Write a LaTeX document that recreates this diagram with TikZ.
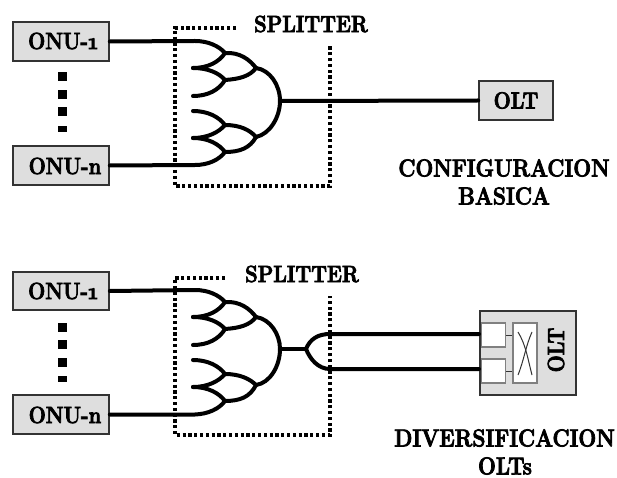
\documentclass[tikz,border=0pt]{standalone}
\usepackage{fontspec}
\newfontfamily\heavy{Latin Modern Roman}[BoldFeatures={FakeBold=3,FakeStretch=0.86},Numbers=OldStyle]
\begin{document}
\begin{tikzpicture}[x=1pt,y=-1pt,
  lbl/.style={font=\heavy\fontsize{24.5}{28}\selectfont\bfseries,text=black,inner sep=0pt},
  boxlbl/.style={lbl,font=\heavy\fontsize{23.5}{28}\selectfont\bfseries},
  unit/.style={draw=black!80,line width=1.6pt,fill=black!13,inner sep=0pt,minimum width=96pt,minimum height=39pt},
  fibre/.style={line width=4pt,line cap=round},
  dotline/.style={line width=3.6pt,dash pattern=on 3.2pt off 2.6pt},
  dotsq/.style={fill=black,draw=none,inner sep=0pt,minimum width=9pt,minimum height=9pt},
  inner/.style={draw=black!50,line width=1.1pt,fill=white,inner sep=0pt},
  thin/.style={line width=1pt,draw=black!80}]
\useasboundingbox (0,0) rectangle (617,478);
\fill[white] (0,0) rectangle (617,478);
% ---------- top ----------
\node[unit] (a1) at (61,41.5) {};
\node[boxlbl] (a1t) at (63,41) {ONU-1};
\node[unit] (an) at (61,165.5) {};
\node[boxlbl] (ant) at (65,166) {ONU-n};
\node[unit,minimum width=74pt] (aolt) at (516,100.5) {};
\node[boxlbl] (aoltt) at (516,100.5) {OLT};
\node[dotsq] (ad1) at (62,77) {};
\node[dotsq] (ad2) at (62,95) {};
\node[dotsq] (ad3) at (62,112) {};
\node[dotsq,minimum height=6pt] (ad4) at (62,129) {};
\draw[dotline] (236,28) -- (175,28) -- (175,186) -- (330,186) -- (330,46);
\node[boxlbl] (asp) at (311,24) {SPLITTER};
\node[lbl] (ac1) at (504,168) {CONFIGURACION};
\node[lbl] (ac2) at (504,196) {BASICA};
\coordinate (A) at (225,53); \coordinate (B) at (225,80); \coordinate (C) at (256,68);
\coordinate (E) at (225,125); \coordinate (F) at (225,152); \coordinate (G) at (256,137);
\coordinate (D) at (280,101);
\draw[fibre] (a1.east) -- (195,41) .. controls (208,41) and (219,46) .. (A);
\draw[fibre] (193,68) .. controls (208,68) and (219,62) .. (A);
\draw[fibre] (193,68) .. controls (208,68) and (219,73) .. (B);
\draw[fibre] (193,96) .. controls (208,96) and (219,90) .. (B);
\draw[fibre] (A) .. controls (240,52) and (250,60) .. (C);
\draw[fibre] (B) .. controls (240,79) and (250,76) .. (C);
\draw[fibre] (193,111) .. controls (208,111) and (219,117) .. (E);
\draw[fibre] (193,138) .. controls (208,138) and (219,132) .. (E);
\draw[fibre] (193,138) .. controls (208,138) and (219,144) .. (F);
\draw[fibre] (an.east) -- (195,165) .. controls (208,165) and (219,160) .. (F);
\draw[fibre] (E) .. controls (240,125) and (250,130) .. (G);
\draw[fibre] (F) .. controls (240,152) and (250,148) .. (G);
\draw[fibre] (C) .. controls (270,70) and (280,85) .. (D);
\draw[fibre] (G) .. controls (270,134) and (280,117) .. (D);
\draw[fibre] (D) -- (aolt.west);
% ---------- bottom ----------
\node[unit,minimum height=38pt] (b1) at (61,291) {};
\node[boxlbl] (b1t) at (63,291) {ONU-1};
\node[unit] (bn) at (61,414.5) {};
\node[boxlbl] (bnt) at (65,415) {ONU-n};
\node[dotsq] (bd1) at (62,327) {};
\node[dotsq] (bd2) at (62,344) {};
\node[dotsq] (bd3) at (62,362) {};
\node[dotsq,minimum height=6pt] (bd4) at (62,379) {};
\draw[dotline] (225,278) -- (175,278) -- (175,435) -- (330,435) -- (330,296);
\node[boxlbl] (bsp) at (302,274) {SPLITTER};
\node[lbl] (bc1) at (504.5,438) {DIVERSIFICACION};
\node[lbl] (bc2) at (505,466) {OLTs};
\node[unit,minimum width=96pt,minimum height=84pt] (bolt) at (528,353) {};
\node[inner,minimum width=24pt,minimum height=24pt] (p1) at (493.5,335) {};
\node[inner,minimum width=24pt,minimum height=24pt] (p2) at (493.5,371) {};
\node[inner,minimum width=24pt,minimum height=60pt] (sw) at (525,353) {};
\node[boxlbl,rotate=90] (boltt) at (556,350) {OLT};
\draw[thin] (p1.east) -- (p1.east-|sw.west);
\draw[thin] (p2.east) -- (p2.east-|sw.west);
\draw[thin] (518,332) .. controls (526,345) and (528,360) .. (532,375);
\draw[thin] (532,332) .. controls (526,345) and (524,360) .. (518,375);
\begin{scope}[shift={(0,249)}]
\coordinate (bA) at (225,53); \coordinate (bB) at (225,80); \coordinate (bC) at (256,68);
\coordinate (bE) at (225,125); \coordinate (bF) at (225,152); \coordinate (bG) at (256,136);
\coordinate (bD) at (280,100); \coordinate (bS) at (306,100);
\draw[fibre] (b1.east) -- (195,41) .. controls (208,41) and (219,46) .. (bA);
\draw[fibre] (193,68) .. controls (208,68) and (219,62) .. (bA);
\draw[fibre] (193,68) .. controls (208,68) and (219,73) .. (bB);
\draw[fibre] (193,96) .. controls (208,96) and (219,90) .. (bB);
\draw[fibre] (bA) .. controls (240,52) and (250,60) .. (bC);
\draw[fibre] (bB) .. controls (240,79) and (250,76) .. (bC);
\draw[fibre] (193,111) .. controls (208,111) and (219,117) .. (bE);
\draw[fibre] (193,138) .. controls (208,138) and (219,132) .. (bE);
\draw[fibre] (193,138) .. controls (208,138) and (219,144) .. (bF);
\draw[fibre] (bn.east) -- (195,165.5) .. controls (208,165) and (219,160) .. (bF);
\draw[fibre] (bE) .. controls (240,125) and (250,130) .. (bG);
\draw[fibre] (bF) .. controls (240,152) and (250,148) .. (bG);
\draw[fibre] (bC) .. controls (270,70) and (280,85) .. (bD);
\draw[fibre] (bG) .. controls (270,134) and (280,117) .. (bD);
\draw[fibre] (bD) -- (bS);
\draw[fibre] (bS) .. controls (310,90) and (318,85) .. (330,85) -- (479,85);
\draw[fibre] (bS) .. controls (310,110) and (318,120) .. (330,120) -- (479,120);
\end{scope}
\end{tikzpicture}
\end{document}
